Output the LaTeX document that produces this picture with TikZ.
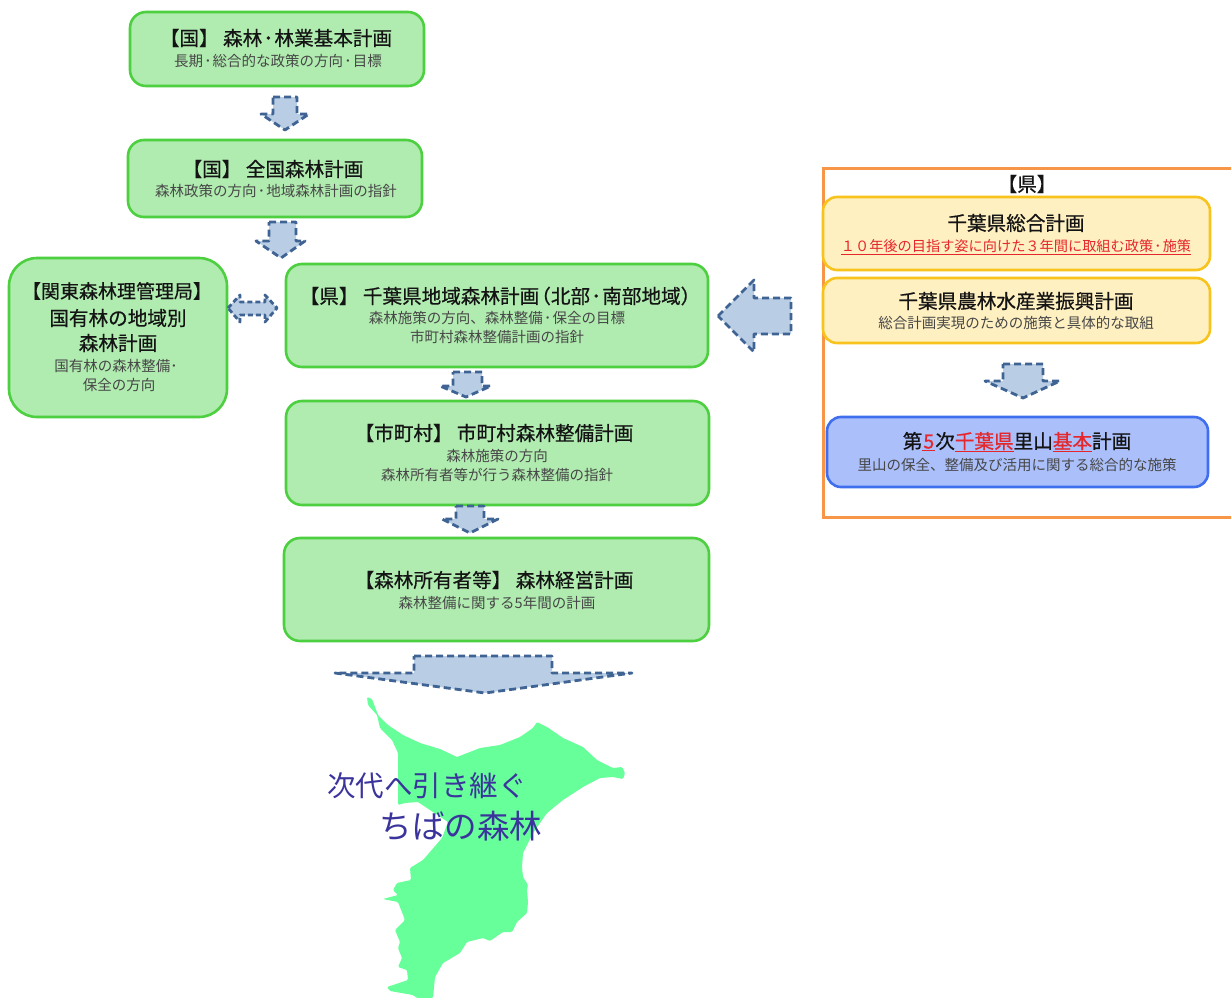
\documentclass[tikz,border=0pt]{standalone}
\usepackage{fontspec}
\setmainfont{Noto Sans CJK JP}
\newfontfamily\ttlfont[FakeBold=0.6]{Noto Sans CJK JP}
\newcommand{\dt}{\kern1.2pt･\kern1.2pt}
\begin{document}
\begin{tikzpicture}[x=1pt,y=-1pt,
  greenbox/.style={draw=boxgreen,fill=fillgreen,line width=2.6pt,rounded corners=#1},
  greenbox/.default=16pt,
  yellowbox/.style={draw=boxyellow,fill=fillyellow,line width=2.6pt,rounded corners=14pt},
  bluebox/.style={draw=boxblue,fill=fillblue,line width=2.6pt,rounded corners=14pt},
  blockarrow/.style={draw=arrowline,fill=arrowfill,line width=2.8pt,dash pattern=on 7pt off 4pt,line join=round},
  ttl/.style={inner sep=0pt,font=\ttlfont\fontsize{19.6}{20}\selectfont,text=black!92},
  sub/.style={inner sep=0pt,font=\fontsize{14.5}{15}\selectfont,text=black!72},
  maptext/.style={inner sep=0pt,text=maptextc}]
\definecolor{boxgreen}{HTML}{4CD03F}
\definecolor{fillgreen}{HTML}{B0EBB0}
\definecolor{boxyellow}{HTML}{F7C31C}
\definecolor{fillyellow}{HTML}{FFF0C2}
\definecolor{boxblue}{HTML}{3F6FEF}
\definecolor{fillblue}{HTML}{ABBFFA}
\definecolor{arrowline}{HTML}{3F6494}
\definecolor{arrowfill}{HTML}{B9CDE5}
\definecolor{frameorange}{HTML}{F79646}
\definecolor{mapgreen}{HTML}{66FF99}
\definecolor{maptextc}{HTML}{3B349C}
\definecolor{redtxt}{HTML}{E5262B}
\useasboundingbox (0,0) rectangle (1231,998);
\fill[white] (0,0) rectangle (1231,998);
% map
\fill[mapgreen,rounded corners=1.2pt] (367,697)--(372,699)--(378,715)--(388,725)--(403,735)--(420,743)--(440,749)--(457,757)--(480,748)--(500,745)--(520,737)--(533,728)--(537,722)--(547,727)--(563,738)--(583,747)--(597,760)--(613,768)--(622,767)--(625,773)--(623,779)--(613,777)--(600,778)--(583,787)--(563,800)--(547,813)--(533,833)--(523,853)--(522,867)--(523,877)--(528,885)--(527,890)--(528,902)--(527,913)--(517,922)--(512,932)--(503,932)--(490,941)--(483,938)--(467,942)--(460,953)--(443,963)--(435,977)--(433,998)--(417,998)--(413,995)--(390,991)--(387,987)--(408,980)--(407,970)--(398,967)--(402,958)--(398,948)--(400,942)--(395,930)--(405,920)--(398,902)--(383,899)--(398,895)--(393,890)--(397,883)--(411,880)--(410,868)--(423,860)--(442,838)--(448,822)--(418,802)--(405,803)--(398,805)--(398,753)--(392,740)--(380,728)--(377,715)--(368,705)--cycle;
% frame
\draw[frameorange,line width=3pt] (1231,168)--(823,168)--(823,517)--(1231,517);
% boxes
\node[greenbox,minimum width=294pt,minimum height=74pt] (b1) at (277,49) {};
\node[greenbox,minimum width=294pt,minimum height=77pt] (b2) at (275,178.5) {};
\node[greenbox=28pt,minimum width=218pt,minimum height=159pt] (b3) at (118,337.5) {};
\node[greenbox,minimum width=422pt,minimum height=103pt] (b4) at (497,315.5) {};
\node[greenbox,minimum width=423pt,minimum height=104pt] (b5) at (497.5,453) {};
\node[greenbox,minimum width=425pt,minimum height=103pt] (b6) at (496.5,589.5) {};
\node[yellowbox,minimum width=387pt,minimum height=73pt] (y1) at (1016.5,233.5) {};
\node[yellowbox,minimum width=387pt,minimum height=65pt] (y2) at (1016.5,310.5) {};
\node[bluebox,minimum width=381pt,minimum height=70pt] (u1) at (1017.5,452) {};
% block arrows
\draw[blockarrow] (273,97)--(297,97)--(297,114)--(309,114)--(285,130)--(261,114)--(273,114)--cycle;
\draw[blockarrow] (269,222)--(296,222)--(296,241)--(305,241)--(281,258)--(256,241)--(269,241)--cycle;
\draw[blockarrow] (453,372)--(482,372)--(482,386)--(491,386)--(466,397)--(440,386)--(453,386)--cycle;
\draw[blockarrow] (456,506)--(484,506)--(484,519)--(498,519)--(470,533)--(442,519)--(456,519)--cycle;
\draw[blockarrow] (414,656)--(552,656)--(552,673)--(632,673)--(485,693)--(335,673)--(414,673)--cycle;
\draw[blockarrow] (1003,364)--(1043,364)--(1043,381)--(1060,381)--(1023,398)--(985,381)--(1003,381)--cycle;
\draw[blockarrow] (718,316)--(754,280)--(754,298)--(791,298)--(791,334)--(754,334)--(754,352)--cycle;
\draw[blockarrow,dash pattern=on 5pt off 3pt] (228,308)--(240,295)--(240,302)--(265,302)--(265,295)--(277,308)--(265,322)--(265,315)--(240,315)--(240,322)--cycle;
% texts
\node[ttl] (t1) at (276,38) {【国】 森林\dt 林業基本計画};
\node[sub] (s1) at (278,61) {長期\dt 総合的な政策の方向\dt 目標};
\node[ttl] (t2) at (273,169) {【国】 全国森林計画};
\node[sub] (s2) at (276,191) {森林政策の方向\dt 地域森林計画の指針};
\node[ttl,font=\ttlfont\fontsize{19}{20}\selectfont] (t3a) at (117,291) {【関東森林理管理局】};
\node[ttl] (t3b) at (118,318) {国有林の地域別};
\node[ttl] (t3c) at (118,343) {森林計画};
\node[sub] (s3a) at (116,366) {国有林の森林整備･};
\node[sub] (s3b) at (119,385) {保全の方向};
\node[ttl] (t4) at (496,296) {【県】 千葉県地域森林計画\kern-8pt（北部\dt 南部地域）\kern-8pt};
\node[sub] (s4a) at (497,318) {森林施策の方向、森林整備\dt 保全の目標};
\node[sub] (s4b) at (497,337) {市町村森林整備計画の指針};
\node[ttl] (t5) at (494,433) {【市町村】 市町村森林整備計画};
\node[sub] (s5a) at (497,456) {森林施策の方向};
\node[sub] (s5b) at (497,475) {森林所有者等が行う森林整備の指針};
\node[ttl] (t6) at (494,580) {【森林所有者等】 森林経営計画};
\node[sub] (s6) at (497,603) {森林整備に関する5年間の計画};
\node[ttl] (k0) at (1027,184) {【県】};
\node[ttl] (k1) at (1016,223) {千葉県総合計画};
\node[sub,text=redtxt,font=\fontsize{14.2}{15}\selectfont] (k1s) at (1016,247) {\underline{１０年後の目指す姿に向けた３年間に取組む政策\dt 施策}};
\node[ttl] (k2) at (1016,301) {千葉県農林水産業振興計画};
\node[sub] (k2s) at (1016,323) {総合計画実現のための施策と具体的な取組};
\node[ttl] (k3) at (1017,442) {第\textcolor{redtxt}{\underline{\kern1pt 5\kern1pt}}次\textcolor{redtxt}{\underline{千葉県}}里山\textcolor{redtxt}{\underline{基本}}計画};
\node[sub] (k3s) at (1017,465) {里山の保全、整備及び活用に関する総合的な施策};
\node[maptext,font=\fontsize{28.5}{30}\selectfont] (m1) at (427,786) {次代へ引き継ぐ};
\node[maptext,font=\fontsize{32.5}{34}\selectfont] (m2) at (461,826) {ちばの森林};
\end{tikzpicture}
\end{document}
